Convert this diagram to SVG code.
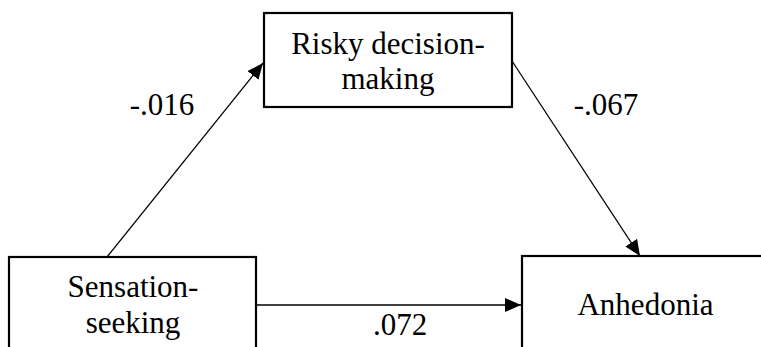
<svg xmlns="http://www.w3.org/2000/svg" width="761" height="347" viewBox="0 0 761 347">
<style>
.box{fill:#fff;stroke:#000;stroke-width:2.2}
.t{font-family:'Liberation Serif','Times New Roman',serif;font-size:31px;fill:#000;text-anchor:middle}
.c{stroke:#000;stroke-width:1.3;fill:none}
</style>
<defs>
<marker id="ah" viewBox="0 0 16 14" refX="16" refY="7" markerWidth="16" markerHeight="14" markerUnits="userSpaceOnUse" orient="auto">
<path d="M0,0 L16,7 L0,14 Z" fill="#000"/>
</marker>
</defs>
<rect width="761" height="347" fill="#fff"/>
<g id="connectors">
<line class="c" x1="107" y1="257" x2="263" y2="63" marker-end="url(#ah)"/>
<line class="c" x1="512" y1="61" x2="640" y2="256" marker-end="url(#ah)"/>
<line class="c" x1="256" y1="305" x2="521" y2="305" marker-end="url(#ah)"/>
</g>
<g id="risky">
<rect class="box" x="264" y="13" width="248" height="94"/>
<text class="t" x="388" y="54">Risky decision-</text>
<text class="t" x="388" y="89">making</text>
</g>
<g id="sensation">
<rect class="box" x="9" y="257" width="247" height="110"/>
<text class="t" x="133" y="297">Sensation-</text>
<text class="t" x="133" y="333">seeking</text>
</g>
<g id="anhedonia">
<rect class="box" x="522" y="256" width="260" height="110"/>
<text class="t" x="645.5" y="315">Anhedonia</text>
</g>
<g id="labels">
<text class="t" x="162" y="115">-.016</text>
<text class="t" x="606" y="115">-.067</text>
<text class="t" x="400" y="335">.072</text>
</g>
</svg>
